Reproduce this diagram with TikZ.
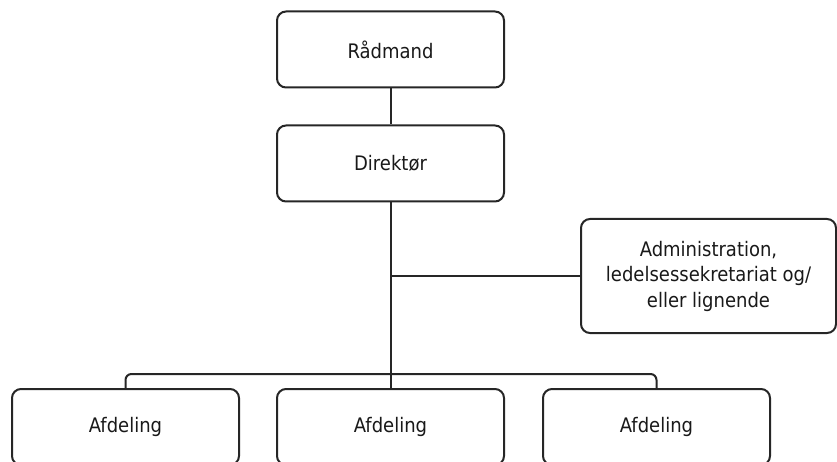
\documentclass[tikz,border=0pt]{standalone}
\usepackage{fontspec}
\setmainfont{DejaVu Sans Condensed}
\begin{document}
\begin{tikzpicture}[x=1pt,y=-1pt,
  box/.style={draw=black!85, line width=2pt, rounded corners=9pt,
    minimum width=227pt, minimum height=76pt, align=center, inner sep=0pt,
    text=black!90, font=\fontsize{20}{25.5}\selectfont},
  link/.style={draw=black!85, line width=2pt}]
\useasboundingbox (0,0) rectangle (837,462);
\clip (0,0) rectangle (837,462);

% management line
\node[box] (raadmand) at (390.5,49.5) {Rådmand};
\node[box] (direktoer) at (390.5,163.5) {Direktør};

% staff function to the side
\node[box, minimum width=255pt, minimum height=114pt] (admin) at (708.5,276)
  {Administration,\\ledelsessekretariat og/\\eller lignende};

% departments
\node[box] (afd1) at (125.5,427) {Afdeling};
\node[box] (afd2) at (390.5,427) {Afdeling};
\node[box] (afd3) at (656.5,427) {Afdeling};

\coordinate (bus) at (390.5,374);

\draw[link] (raadmand) -- (direktoer);
\draw[link] (direktoer) -- (bus);
\draw[link] (direktoer.south |- admin.west) -- (admin.west);
\draw[link] (bus) -- (afd2.north);
\draw[link, rounded corners=6pt] (afd1.north) -- (afd1.north |- bus) -- (afd3.north |- bus) -- (afd3.north);
\end{tikzpicture}
\end{document}
